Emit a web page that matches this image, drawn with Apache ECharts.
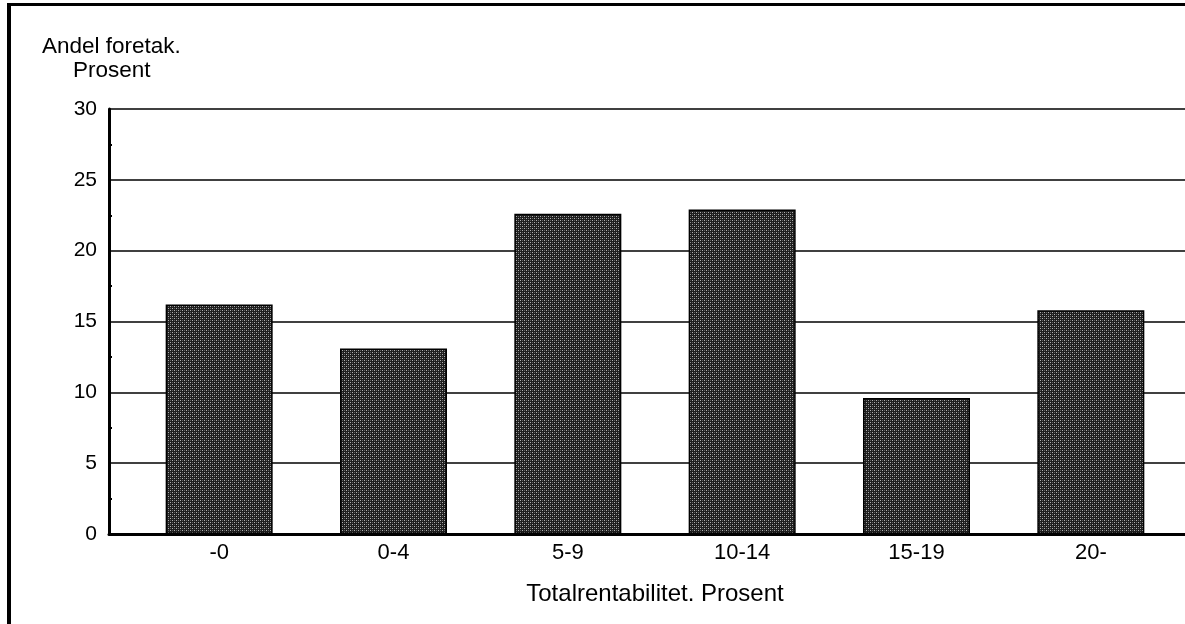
<!DOCTYPE html>
<html>
<head>
<meta charset="utf-8">
<script src="https://cdn.jsdelivr.net/npm/echarts@6/dist/echarts.min.js"></script>
<style>
  html, body { margin: 0; padding: 0; background: #fff; }
  #main { width: 1185px; height: 624px; }
</style>
</head>
<body>
<div id="main"></div>
<script>
// data
var categories = ['-0', '0-4', '5-9', '10-14', '15-19', '20-'];
var shares = [16.2, 13.1, 22.6, 22.9, 9.6, 15.8];
var yTicks = [0, 5, 10, 15, 20, 25, 30];

// small dither pattern for the bars, like the printed screen
function makePattern() {
  var c = document.createElement('canvas');
  c.width = 4; c.height = 4;
  var ctx = c.getContext('2d');
  ctx.fillStyle = '#1e1e1e';
  ctx.fillRect(0, 0, 4, 4);
  ctx.fillStyle = '#b0b0b0';
  ctx.fillRect(0, 0, 1, 1);
  ctx.fillRect(2, 2, 1, 1);
  ctx.fillStyle = '#606060';
  ctx.fillRect(2, 0, 1, 1);
  ctx.fillRect(0, 2, 1, 1);
  return c;
}

var font = '"Liberation Sans", Arial, Helvetica, sans-serif';
var myChart = echarts.init(document.getElementById('main'));

myChart.setOption({
  animation: false,
  textStyle: { fontFamily: font },
  graphic: [
    { type: 'line', shape: { x1: 7, y1: 4.5, x2: 1185, y2: 4.5 }, style: { stroke: '#000', lineWidth: 3 } },
    { type: 'line', shape: { x1: 9, y1: 3, x2: 9, y2: 624 }, style: { stroke: '#000', lineWidth: 4 } },
    { type: 'text', left: 42, top: 35, style: { text: 'Andel foretak.', font: '22.5px ' + font, fill: '#000' } },
    { type: 'text', left: 73, top: 59, style: { text: 'Prosent', font: '22.5px ' + font, fill: '#000' } }
  ],
  grid: [
    // axis + gridlines
    { left: 109, right: -4, top: 109, bottom: 90 },
    // bars, categories start a little to the right of the y axis
    { left: 132, right: 7, top: 109, bottom: 90 }
  ],
  xAxis: [
    {
      gridIndex: 0, type: 'category', data: categories,
      axisLine: { show: true, lineStyle: { color: '#000', width: 3 } },
      axisTick: { show: false }, axisLabel: { show: false }, splitLine: { show: false }
    },
    {
      gridIndex: 1, type: 'category', data: categories,
      name: 'Totalrentabilitet. Prosent', nameLocation: 'middle', nameGap: 48,
      nameTextStyle: { color: '#000', fontSize: 24, fontFamily: font },
      axisLine: { show: false }, axisTick: { show: false },
      axisLabel: { color: '#000', fontSize: 22, margin: 8, fontFamily: font }
    }
  ],
  yAxis: [
    {
      gridIndex: 0, type: 'value', min: yTicks[0], max: yTicks[yTicks.length - 1], interval: 5,
      axisLine: { show: true, lineStyle: { color: '#000', width: 3 } },
      axisTick: { show: false, inside: true },
      minorTick: { show: true, splitNumber: 2, length: 3, lineStyle: { color: '#000', width: 2 } },
      axisLabel: { color: '#000', fontSize: 21, margin: 12, fontFamily: font },
      splitLine: { show: true, lineStyle: { color: '#000', width: 1.5 } }
    },
    {
      gridIndex: 1, type: 'value', min: yTicks[0], max: yTicks[yTicks.length - 1], interval: 5,
      show: false, splitLine: { show: false }
    }
  ],
  series: [
    {
      type: 'bar', xAxisIndex: 1, yAxisIndex: 1,
      data: shares, barWidth: 107,
      itemStyle: {
        color: { image: makePattern(), repeat: 'repeat' },
        borderColor: '#000', borderWidth: 1.5
      }
    }
  ]
});
</script>
</body>
</html>
